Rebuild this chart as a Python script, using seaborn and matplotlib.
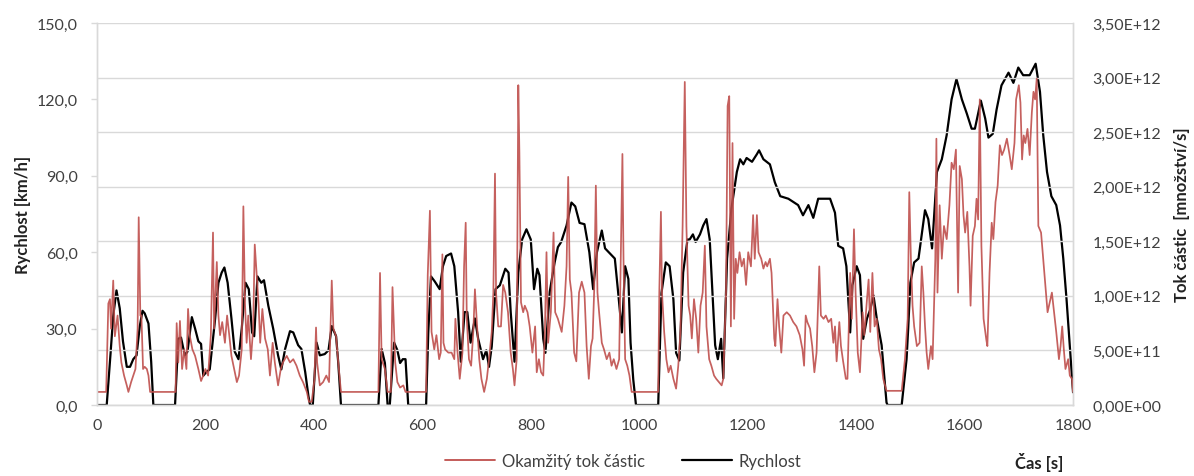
import matplotlib
matplotlib.use("Agg")
import matplotlib.pyplot as plt
import matplotlib.ticker as mticker
from matplotlib.lines import Line2D
import numpy as np
import pandas as pd
import seaborn as sns

# Vehicle speed during the drive cycle: time [s] and speed [km/h]
SPEED_T = [0, 18, 25, 30, 36, 42, 48, 55, 61, 67, 73, 79, 84, 88, 95, 100, 104, 144, 150, 155,
           162, 167, 175, 181, 187, 192, 196, 202, 208, 218, 224, 230, 235, 241, 248, 254, 261, 267, 274, 280,
           286, 290, 296, 303, 308, 316, 325, 334, 340, 347, 356, 362, 371, 377, 384, 390, 393, 398, 405, 411,
           420, 427, 433, 441, 445, 450, 519, 525, 531, 536, 540, 548, 554, 559, 564, 569, 574, 607, 611, 616,
           623, 632, 638, 644, 653, 659, 666, 671, 678, 683, 689, 697, 703, 712, 718, 723, 728, 735, 743, 753,
           759, 763, 770, 777, 784, 792, 800, 806, 812, 816, 823, 827, 835, 844, 850, 856, 866, 875, 882, 890,
           899, 908, 915, 922, 931, 937, 946, 955, 961, 968, 974, 980, 984, 989, 994, 1035, 1041, 1049, 1056, 1063,
           1068, 1074, 1081, 1089, 1093, 1099, 1104, 1112, 1118, 1124, 1130, 1135, 1140, 1145, 1151, 1155, 1162, 1170, 1180, 1186,
           1192, 1198, 1208, 1217, 1221, 1229, 1241, 1250, 1260, 1275, 1293, 1302, 1312, 1321, 1330, 1340, 1352, 1361, 1367, 1376,
           1382, 1389, 1393, 1401, 1407, 1413, 1420, 1426, 1432, 1438, 1447, 1456, 1458, 1484, 1493, 1496, 1500, 1507, 1515, 1527,
           1533, 1540, 1549, 1558, 1567, 1576, 1585, 1595, 1604, 1613, 1619, 1630, 1638, 1644, 1652, 1659, 1668, 1681, 1690, 1699,
           1708, 1720, 1731, 1739, 1745, 1752, 1760, 1769, 1776, 1782, 1788, 1794, 1800]
SPEED_KMH = [0, 0, 20, 35, 45, 38, 25, 15, 15, 18, 19.5, 31, 37, 36, 32, 17, 0, 0, 26, 26.5,
             19.5, 21, 34.5, 30, 25, 24, 11.5, 13, 14, 34, 48, 52, 54, 48, 34, 21, 18, 30, 48, 45.5,
             28.5, 27, 50.5, 48, 49, 39, 30, 19.5, 14, 22, 29, 28.5, 23.5, 22, 13, 3.5, 0, 0, 24.5, 19.5,
             20, 21.5, 31, 27, 16.5, 0, 0, 22, 16.5, 0, 0, 24.5, 21.5, 16.5, 18, 18, 0, 0, 28.5, 50.5,
             48.5, 45.5, 54.5, 58.5, 59.5, 54.5, 36.5, 17, 36.5, 36.5, 24.5, 34, 26, 18, 21.5, 15, 23, 45.5, 47, 53.5,
             52, 36.5, 17, 52, 65, 69, 65, 45.5, 53.5, 51, 26, 20.5, 44.5, 56, 62, 64, 70.5, 79.5, 78, 71.5,
             71, 60, 45.5, 60, 68.5, 61.5, 59.5, 57.5, 44.5, 28.5, 54.5, 49.5, 24.5, 10, 0, 0, 44, 56, 54.5, 41.5,
             20.5, 17.5, 52, 65, 65, 67, 64, 67, 70.5, 73, 65, 44.5, 23.5, 18, 26, 10.5, 57.5, 77, 91.5, 96.5,
             94.5, 97, 95.5, 98.5, 100, 96.5, 94.5, 87.5, 82, 81, 78.5, 74.5, 78.5, 73.5, 81, 81, 81, 75.5, 62.5, 61.5,
             54.5, 28.5, 47, 54.5, 51, 26, 34, 37.5, 43, 34, 23.5, 1, 0, 0, 18, 30, 48, 56, 57.5, 76.5,
             73, 61.5, 91.5, 96.5, 106, 120, 128, 120, 114.5, 108.5, 108.5, 119.5, 112.5, 105, 106.5, 116, 125.5, 130.5, 126.5, 132.5,
             129.5, 129.5, 134, 123, 106, 91.5, 82, 78.5, 70.5, 57.5, 41.5, 23.5, 5]

# Instantaneous particle flow: time [s] and flow [1e11 particles/s]
FLOW_T = [0, 17, 21, 24, 26, 30, 33, 38, 42, 45, 50, 55, 58, 63, 67, 71, 75, 77, 80, 82,
          85, 88, 92, 95, 98, 145, 147, 150, 153, 157, 161, 165, 168, 171, 176, 181, 187, 192, 196, 200,
          205, 210, 214, 216, 221, 224, 227, 231, 236, 240, 244, 248, 253, 258, 262, 267, 270, 273, 276, 279,
          284, 288, 291, 294, 298, 301, 305, 310, 315, 319, 324, 328, 334, 339, 343, 350, 356, 362, 368, 374,
          380, 387, 391, 396, 401, 404, 406, 411, 417, 423, 428, 433, 436, 441, 445, 450, 519, 522, 525, 531,
          536, 542, 545, 550, 554, 559, 565, 569, 607, 610, 614, 617, 622, 626, 631, 634, 637, 639, 642, 648,
          654, 659, 661, 665, 669, 674, 677, 680, 682, 686, 690, 694, 697, 701, 705, 709, 714, 719, 723, 728,
          731, 734, 736, 740, 745, 749, 753, 758, 763, 767, 770, 774, 777, 779, 782, 786, 789, 794, 798, 803,
          808, 811, 815, 819, 823, 826, 829, 832, 837, 842, 845, 850, 854, 857, 862, 866, 869, 872, 875, 880,
          884, 889, 894, 899, 903, 907, 911, 914, 917, 920, 923, 926, 931, 935, 940, 945, 949, 953, 958, 963,
          966, 969, 971, 974, 978, 982, 986, 1035, 1037, 1040, 1042, 1046, 1050, 1054, 1058, 1063, 1068, 1072, 1076, 1080,
          1084, 1087, 1091, 1094, 1097, 1101, 1105, 1109, 1113, 1117, 1121, 1124, 1129, 1133, 1138, 1142, 1147, 1152, 1155, 1160,
          1163, 1166, 1169, 1172, 1175, 1178, 1181, 1185, 1189, 1193, 1197, 1201, 1206, 1210, 1213, 1217, 1220, 1225, 1229, 1233,
          1236, 1241, 1244, 1249, 1251, 1255, 1258, 1262, 1266, 1272, 1278, 1284, 1290, 1296, 1301, 1304, 1307, 1310, 1315, 1319,
          1323, 1327, 1332, 1335, 1340, 1344, 1349, 1354, 1358, 1361, 1364, 1369, 1372, 1376, 1381, 1384, 1389, 1392, 1396, 1399,
          1403, 1407, 1412, 1415, 1420, 1423, 1426, 1430, 1434, 1438, 1442, 1446, 1450, 1456, 1484, 1490, 1495, 1498, 1501, 1504,
          1507, 1512, 1517, 1521, 1524, 1527, 1530, 1533, 1538, 1541, 1546, 1548, 1550, 1554, 1558, 1562, 1567, 1572, 1576, 1580,
          1584, 1588, 1591, 1595, 1598, 1601, 1605, 1609, 1611, 1615, 1619, 1622, 1625, 1628, 1631, 1635, 1640, 1642, 1646, 1650,
          1653, 1657, 1661, 1665, 1669, 1673, 1678, 1683, 1687, 1692, 1695, 1700, 1703, 1706, 1709, 1712, 1716, 1720, 1724, 1727,
          1730, 1733, 1736, 1741, 1745, 1749, 1753, 1757, 1761, 1765, 1769, 1774, 1777, 1780, 1783, 1786, 1791, 1794, 1798, 1800]
FLOW_E11 = [1.2, 1.2, 9.3, 9.7, 7.0, 11.4, 6.3, 8.2, 5.4, 3.9, 2.7, 1.8, 1.2, 2.1, 2.7, 3.3, 7.0, 17.2, 8.2, 8.2,
            3.3, 3.5, 3.3, 2.7, 1.2, 1.2, 7.5, 3.9, 7.7, 3.3, 5.1, 3.3, 8.8, 6.4, 5.1, 4.5, 3.3, 2.2, 2.7, 3.3,
            2.7, 6.4, 15.8, 7.0, 13.1, 8.2, 6.4, 7.6, 5.7, 8.2, 6.4, 4.5, 3.3, 2.1, 2.7, 5.1, 18.2, 9.3, 5.7, 8.2,
            4.2, 7.0, 14.7, 12.4, 9.3, 5.7, 8.8, 6.1, 5.1, 2.7, 5.7, 3.9, 1.8, 3.3, 3.9, 4.5, 3.9, 4.2, 3.6, 2.7,
            2.1, 1.2, 0.3, 0.3, 2.3, 7.1, 3.9, 1.8, 2.1, 2.7, 2.1, 11.4, 7.0, 6.3, 3.9, 1.2, 1.2, 12.1, 4.2, 3.3,
            1.2, 1.2, 10.8, 3.9, 2.1, 1.6, 1.8, 1.2, 1.2, 11.9, 17.8, 6.7, 5.1, 6.4, 4.2, 4.8, 13.8, 5.7, 5.1, 4.8,
            4.8, 4.2, 7.9, 4.8, 2.4, 4.8, 12.7, 16.7, 7.9, 4.2, 3.6, 6.7, 10.6, 7.2, 4.2, 2.4, 1.2, 2.4, 4.2, 6.7,
            10.3, 21.2, 10.3, 7.2, 7.2, 11.0, 10.3, 8.5, 4.8, 3.3, 1.8, 4.2, 29.3, 23.1, 9.4, 8.5, 9.1, 8.5, 7.2, 4.8,
            7.2, 3.0, 4.2, 3.0, 2.7, 6.7, 14.0, 5.7, 8.5, 15.8, 8.5, 7.9, 7.2, 6.7, 9.1, 12.7, 20.9, 11.5, 10.3, 4.8,
            4.0, 10.3, 11.3, 10.3, 5.4, 2.4, 5.4, 6.1, 10.6, 20.1, 10.3, 8.5, 5.7, 5.1, 4.2, 4.8, 3.6, 4.2, 3.3, 4.2,
            13.4, 23.0, 13.4, 4.2, 3.6, 2.7, 1.2, 1.2, 10.3, 17.7, 10.3, 6.7, 4.2, 3.0, 3.6, 2.4, 1.5, 3.6, 6.7, 16.4,
            29.6, 16.4, 9.1, 8.2, 6.1, 9.7, 7.9, 4.8, 9.1, 10.3, 14.6, 7.2, 4.2, 3.6, 2.7, 2.4, 2.1, 1.8, 2.4, 10.3,
            27.4, 28.3, 7.2, 24.0, 7.9, 13.4, 12.1, 14.0, 12.7, 13.4, 11.0, 14.0, 12.7, 17.4, 13.4, 17.4, 14.0, 13.4, 12.5, 13.1,
            12.7, 13.4, 12.1, 6.1, 5.4, 9.7, 7.2, 4.8, 8.2, 8.5, 8.2, 7.6, 7.2, 6.4, 5.1, 3.6, 8.2, 7.6, 7.0, 5.4,
            3.0, 4.8, 12.7, 8.2, 7.9, 8.2, 7.6, 7.9, 5.7, 7.2, 4.0, 7.6, 5.4, 4.0, 2.4, 2.4, 12.1, 7.9, 16.1, 10.3,
            4.8, 3.0, 8.5, 6.4, 9.7, 11.5, 6.7, 12.1, 7.2, 7.9, 5.1, 4.2, 2.4, 1.3, 1.3, 4.2, 7.9, 19.5, 13.4, 9.1,
            7.2, 5.4, 5.7, 12.7, 10.3, 7.2, 4.8, 3.3, 5.4, 4.2, 13.4, 24.4, 10.3, 18.3, 13.4, 16.4, 15.2, 18.3, 22.2, 21.6,
            23.4, 10.3, 21.9, 20.7, 17.4, 15.8, 17.7, 12.7, 9.1, 15.5, 16.4, 18.9, 17.0, 28.0, 14.6, 7.9, 6.0, 5.4, 12.1, 16.7,
            15.2, 18.6, 20.1, 23.8, 22.9, 23.4, 24.4, 22.9, 21.6, 24.0, 28.0, 29.3, 27.7, 22.5, 24.7, 24.0, 25.3, 22.9, 26.8, 28.7,
            28.0, 29.9, 16.4, 15.8, 13.4, 10.9, 8.5, 9.4, 10.3, 8.5, 6.7, 4.2, 5.4, 7.2, 5.1, 3.3, 4.2, 2.7, 2.4, 1.2]

LEFT_TICKS = [0, 30, 60, 90, 120, 150]
RIGHT_TICKS_E11 = [0, 5, 10, 15, 20, 25, 30, 35]
X_TICKS = [0, 200, 400, 600, 800, 1000, 1200, 1400, 1600, 1800]

speed = pd.DataFrame({"t": SPEED_T, "v": SPEED_KMH})
flow = pd.DataFrame({"t": FLOW_T, "p": np.array(FLOW_E11) * 1e11})

sns.set_theme(style="white")
plt.rcParams["font.family"] = ["Lato", "DejaVu Sans"]

GRID = "#D9D9D9"
TXT = "#404040"
RED = "#BF4F4C"

fig = plt.figure(figsize=(11.94, 4.77), dpi=100)
ax = fig.add_axes([0.0812, 0.1488, 0.8175, 0.8009])
ax2 = ax.twinx()

sns.lineplot(data=speed, x="t", y="v", ax=ax, color="black", linewidth=1.6,
             sort=False, estimator=None)
sns.lineplot(data=flow, x="t", y="p", ax=ax2, color=RED, linewidth=1.25,
             sort=False, estimator=None, alpha=0.9)

ax.set_xlim(0, 1800)
ax.set_ylim(0, 150)
ax2.set_ylim(0, 3.5e12)
ax.set_xticks(X_TICKS)
ax.set_yticks(LEFT_TICKS)
ax2.set_yticks([v * 1e11 for v in RIGHT_TICKS_E11])

ax.yaxis.set_major_formatter(mticker.FuncFormatter(lambda v, p: f"{v:.1f}".replace(".", ",")))

def sci_comma(v, p):
    if v == 0:
        return "0,00E+00"
    exp = int(np.floor(np.log10(v)))
    mant = v / 10 ** exp
    return f"{mant:.2f}".replace(".", ",") + f"E+{exp:02d}"

ax2.yaxis.set_major_formatter(mticker.FuncFormatter(sci_comma))

ax2.grid(True, axis="y", color=GRID, linewidth=1.0)
ax.grid(False)
ax2.set_axisbelow(True)

for a in (ax, ax2):
    for s in a.spines.values():
        s.set_color(GRID)
        s.set_linewidth(1.0)
    a.spines["top"].set_visible(False)
    a.set_xlabel("")
    a.set_ylabel("")

ax.tick_params(axis="x", colors=GRID, labelcolor=TXT, labelsize=11.5, length=4, width=1, direction="out", pad=5)
ax.tick_params(axis="y", colors=GRID, labelcolor=TXT, labelsize=11.5, length=4, width=1, direction="out", pad=10)
ax2.tick_params(axis="y", colors=GRID, labelcolor=TXT, labelsize=11.5, length=0, pad=14)

fig.text(0.019, 0.55, "Rychlost [km/h]", rotation=90, ha="center", va="center",
         fontsize=12, fontweight="bold", color="#222222")
fig.text(0.99, 0.55, "Tok částic  [množství/s]", rotation=90, ha="center", va="center",
         fontsize=12, fontweight="bold", color="#222222")
fig.text(0.8705, 0.031, "Čas [s]", ha="center", va="center",
         fontsize=12, fontweight="bold", color="#222222")

handles = [Line2D([], [], color=RED, linewidth=1.3), Line2D([], [], color="black", linewidth=1.6)]
fig.legend(handles, ["Okamžitý tok částic", "Rychlost"], loc="center", ncol=2,
           bbox_to_anchor=(0.522, 0.031), frameon=False, fontsize=12, handlelength=3.0,
           handletextpad=0.4, columnspacing=2.2, labelcolor=TXT)

fig.savefig("out.png", dpi=100, facecolor="white")
